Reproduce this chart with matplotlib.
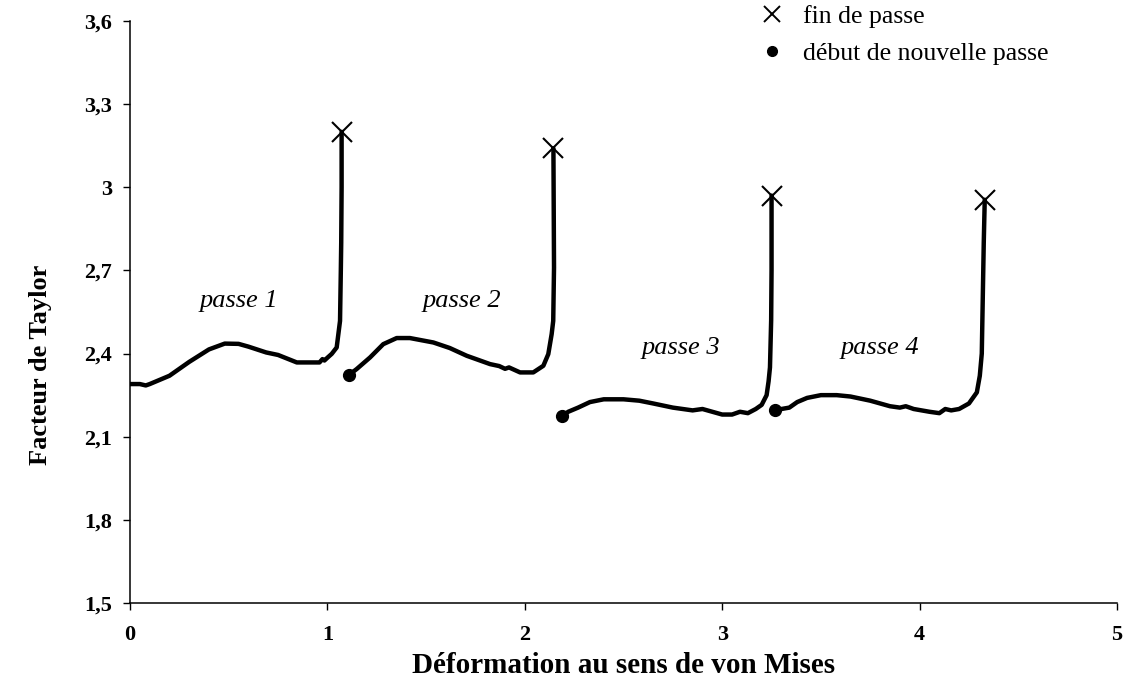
import matplotlib
matplotlib.use("Agg")
import matplotlib.pyplot as plt
from matplotlib.lines import Line2D

# passe 1..4 : deformation (x) et facteur de Taylor (y)
p1_x = [0.0, 0.05, 0.08, 0.1, 0.2, 0.3, 0.4, 0.48, 0.55, 0.6, 0.69, 0.75, 0.845, 0.96,
        0.975, 0.985, 1.0, 1.022, 1.047, 1.064, 1.068, 1.07, 1.072, 1.072]
p1_y = [2.29, 2.29, 2.285, 2.29, 2.32, 2.37, 2.415, 2.436, 2.435, 2.425, 2.404, 2.395, 2.368, 2.368,
        2.38, 2.375, 2.385, 2.399, 2.422, 2.518, 2.7, 2.8, 3.0, 3.2]

p2_x = [1.111, 1.148, 1.216, 1.283, 1.351, 1.418, 1.537, 1.62, 1.706, 1.824, 1.87, 1.9, 1.92,
        1.976, 2.043, 2.094, 2.119, 2.136, 2.144, 2.148, 2.145]
p2_y = [2.324, 2.344, 2.386, 2.434, 2.456, 2.456, 2.44, 2.42, 2.392, 2.362, 2.355, 2.345, 2.35,
        2.332, 2.332, 2.356, 2.398, 2.47, 2.518, 2.71, 3.14]

p3_x = [2.19, 2.22, 2.27, 2.33, 2.4, 2.5, 2.58, 2.65, 2.75, 2.85, 2.9, 2.95, 3.0, 3.05, 3.09,
        3.13, 3.17, 3.2, 3.225, 3.235, 3.242, 3.248, 3.25, 3.25]
p3_y = [2.175, 2.19, 2.205, 2.225, 2.235, 2.235, 2.23, 2.22, 2.205, 2.195, 2.2, 2.19, 2.18, 2.18, 2.19,
        2.185, 2.2, 2.215, 2.25, 2.3, 2.35, 2.52, 2.7, 2.97]

p4_x = [3.27, 3.3, 3.34, 3.38, 3.43, 3.5, 3.58, 3.65, 3.75, 3.85, 3.9, 3.93, 3.97, 4.05, 4.1,
        4.13, 4.16, 4.2, 4.25, 4.29, 4.305, 4.315, 4.32, 4.325, 4.33]
p4_y = [2.195, 2.2, 2.205, 2.225, 2.24, 2.25, 2.25, 2.245, 2.23, 2.21, 2.205, 2.21, 2.2, 2.19, 2.185,
        2.2, 2.195, 2.2, 2.22, 2.26, 2.32, 2.4, 2.6, 2.8, 2.955]

passes = [(p1_x, p1_y), (p2_x, p2_y), (p3_x, p3_y), (p4_x, p4_y)]
pass_labels = ["passe 1", "passe 2", "passe 3", "passe 4"]
label_pos = [(0.55, 2.59), (1.68, 2.59), (2.79, 2.42), (3.80, 2.42)]

xticks = [0, 1, 2, 3, 4, 5]
yticks = [1.5, 1.8, 2.1, 2.4, 2.7, 3.0, 3.3, 3.6]
ytick_labels = ["1,5", "1,8", "2,1", "2,4", "2,7", "3", "3,3", "3,6"]

plt.rcParams['font.family'] = ['Liberation Serif', 'DejaVu Serif']

fig = plt.figure(figsize=(11.24, 6.93), dpi=100)
ax = fig.add_axes([130 / 1124, 90 / 693, 987 / 1124, 582 / 693])

for i, (x, y) in enumerate(passes):
    ax.plot(x, y, color='black', lw=3.2, solid_capstyle='round', solid_joinstyle='round')
    # fin de passe
    ax.plot(x[-1], y[-1], marker='x', color='black', ms=14, mew=1.5, ls='none')
    # debut de nouvelle passe
    if i > 0:
        ax.plot(x[0], y[0], marker='o', color='black', ms=8.5, ls='none')

for txt, (tx, ty) in zip(pass_labels, label_pos):
    ax.text(tx, ty, txt, fontsize=19, style='italic', ha='center', va='center')

ax.set_xlim(0, 5)
ax.set_ylim(1.5, 3.6)
ax.set_xticks(xticks)
ax.set_xticklabels([str(t) for t in xticks], fontsize=16, fontweight='bold')
ax.set_yticks(yticks)
ax.set_yticklabels(ytick_labels, fontsize=16, fontweight='bold')
ax.tick_params(axis='x', direction='out', length=5, width=1, pad=11)
ax.tick_params(axis='y', direction='out', length=5, width=1, pad=8)

for side in ['top', 'right']:
    ax.spines[side].set_visible(False)
for side in ['left', 'bottom']:
    ax.spines[side].set_linewidth(1.1)

ax.set_xlabel("Déformation au sens de von Mises", fontsize=21, fontweight='bold')
ax.xaxis.set_label_coords(0.5, -0.085)
ax.set_ylabel("Facteur de Taylor", fontsize=19, fontweight='bold')
ax.yaxis.set_label_coords(-0.079, 0.41)

handles = [Line2D([], [], marker='x', color='black', ms=11, mew=1.4, ls='none'),
           Line2D([], [], marker='o', color='black', ms=7, ls='none')]
fig.legend(handles, ["fin de passe", "début de nouvelle passe"], loc='upper left',
           bbox_to_anchor=(757 / 1124, 0.993), frameon=False, fontsize=18.5,
           borderaxespad=0, borderpad=0, handlelength=1.2, handletextpad=0.6,
           labelspacing=0.55)

fig.savefig("out.png", dpi=100)
